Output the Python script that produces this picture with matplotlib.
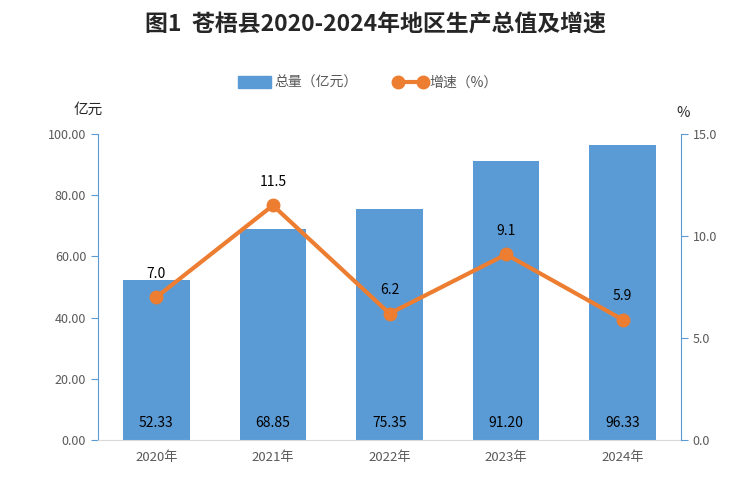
import numpy as np
import matplotlib
matplotlib.use("Agg")
import matplotlib.pyplot as plt

plt.rcParams['font.family'] = ['Noto Sans CJK SC', 'DejaVu Sans']

years = ['2020年', '2021年', '2022年', '2023年', '2024年']
total = [52.33, 68.85, 75.35, 91.20, 96.33]
growth = [7.0, 11.5, 6.2, 9.1, 5.9]

bar_c = '#5b9bd5'
line_c = '#ed7d31'
txt_c = '#595959'

fig = plt.figure(figsize=(7.51, 4.87), dpi=100)
ax = fig.add_axes([0.1305, 0.0965, 0.7763, 0.6283])
x = np.arange(len(years))

ax.bar(x, total, width=0.57, color=bar_c, zorder=2)
for xi, v in zip(x, total):
    ax.text(xi, 5.5, '%.2f' % v, ha='center', va='center', fontsize=10, color='#000000')

ax.set_xlim(-0.5, len(years) - 0.5)
ax.set_ylim(0, 100)
ax.set_yticks(np.arange(0, 101, 20))
ax.set_yticklabels(['%.2f' % t for t in np.arange(0, 101, 20)])
ax.set_xticks(x)
ax.set_xticklabels(years)

ax2 = ax.twinx()
ax2.plot(x, growth, color=line_c, lw=3, marker='o', ms=9, zorder=3)
for xi, v in zip(x, growth):
    ax2.annotate('%.1f' % v, (xi, v), xytext=(0, 17), textcoords='offset points',
                 ha='center', va='center', fontsize=10, color='#000000')
ax2.set_ylim(0, 15)
ax2.set_yticks([0, 5, 10, 15])
ax2.set_yticklabels(['%.1f' % t for t in [0, 5, 10, 15]])

for a in (ax, ax2):
    a.spines['top'].set_visible(False)
ax.spines['right'].set_visible(False)
ax2.spines['left'].set_visible(False)
ax.spines['left'].set_color(bar_c)
ax2.spines['right'].set_color(bar_c)
ax.spines['bottom'].set_color('#d9d9d9')
ax2.spines['bottom'].set_visible(False)

ax.tick_params(axis='y', colors=bar_c, labelcolor=txt_c, labelsize=9, length=5)
ax2.tick_params(axis='y', colors=bar_c, labelcolor=txt_c, labelsize=9, length=5)
ax.tick_params(axis='x', length=0, labelcolor=txt_c, labelsize=9.5, pad=8)

fig.text(0.5, 0.948, '图1  苍梧县2020-2024年地区生产总值及增速', ha='center', va='center',
         fontsize=16.5, fontweight='bold', color='#262626')
fig.text(0.117, 0.775, '亿元', ha='center', va='center', fontsize=10.5, color='#262626')
fig.text(0.910, 0.768, '%', ha='center', va='center', fontsize=10.5, color='#262626')

h1 = plt.Rectangle((0, 0), 1, 1, color=bar_c)
h2, = ax2.plot([], [], color=line_c, lw=3, marker='o', ms=9)
fig.legend([h1, h2], ['总量（亿元）', '增速（%）'], loc='center', bbox_to_anchor=(0.49, 0.83),
           ncol=2, frameon=False, fontsize=10, labelcolor=txt_c, handlelength=2.4,
           handleheight=0.9, numpoints=2, columnspacing=2.6, handletextpad=0.2)

fig.savefig('out.png', dpi=100)
